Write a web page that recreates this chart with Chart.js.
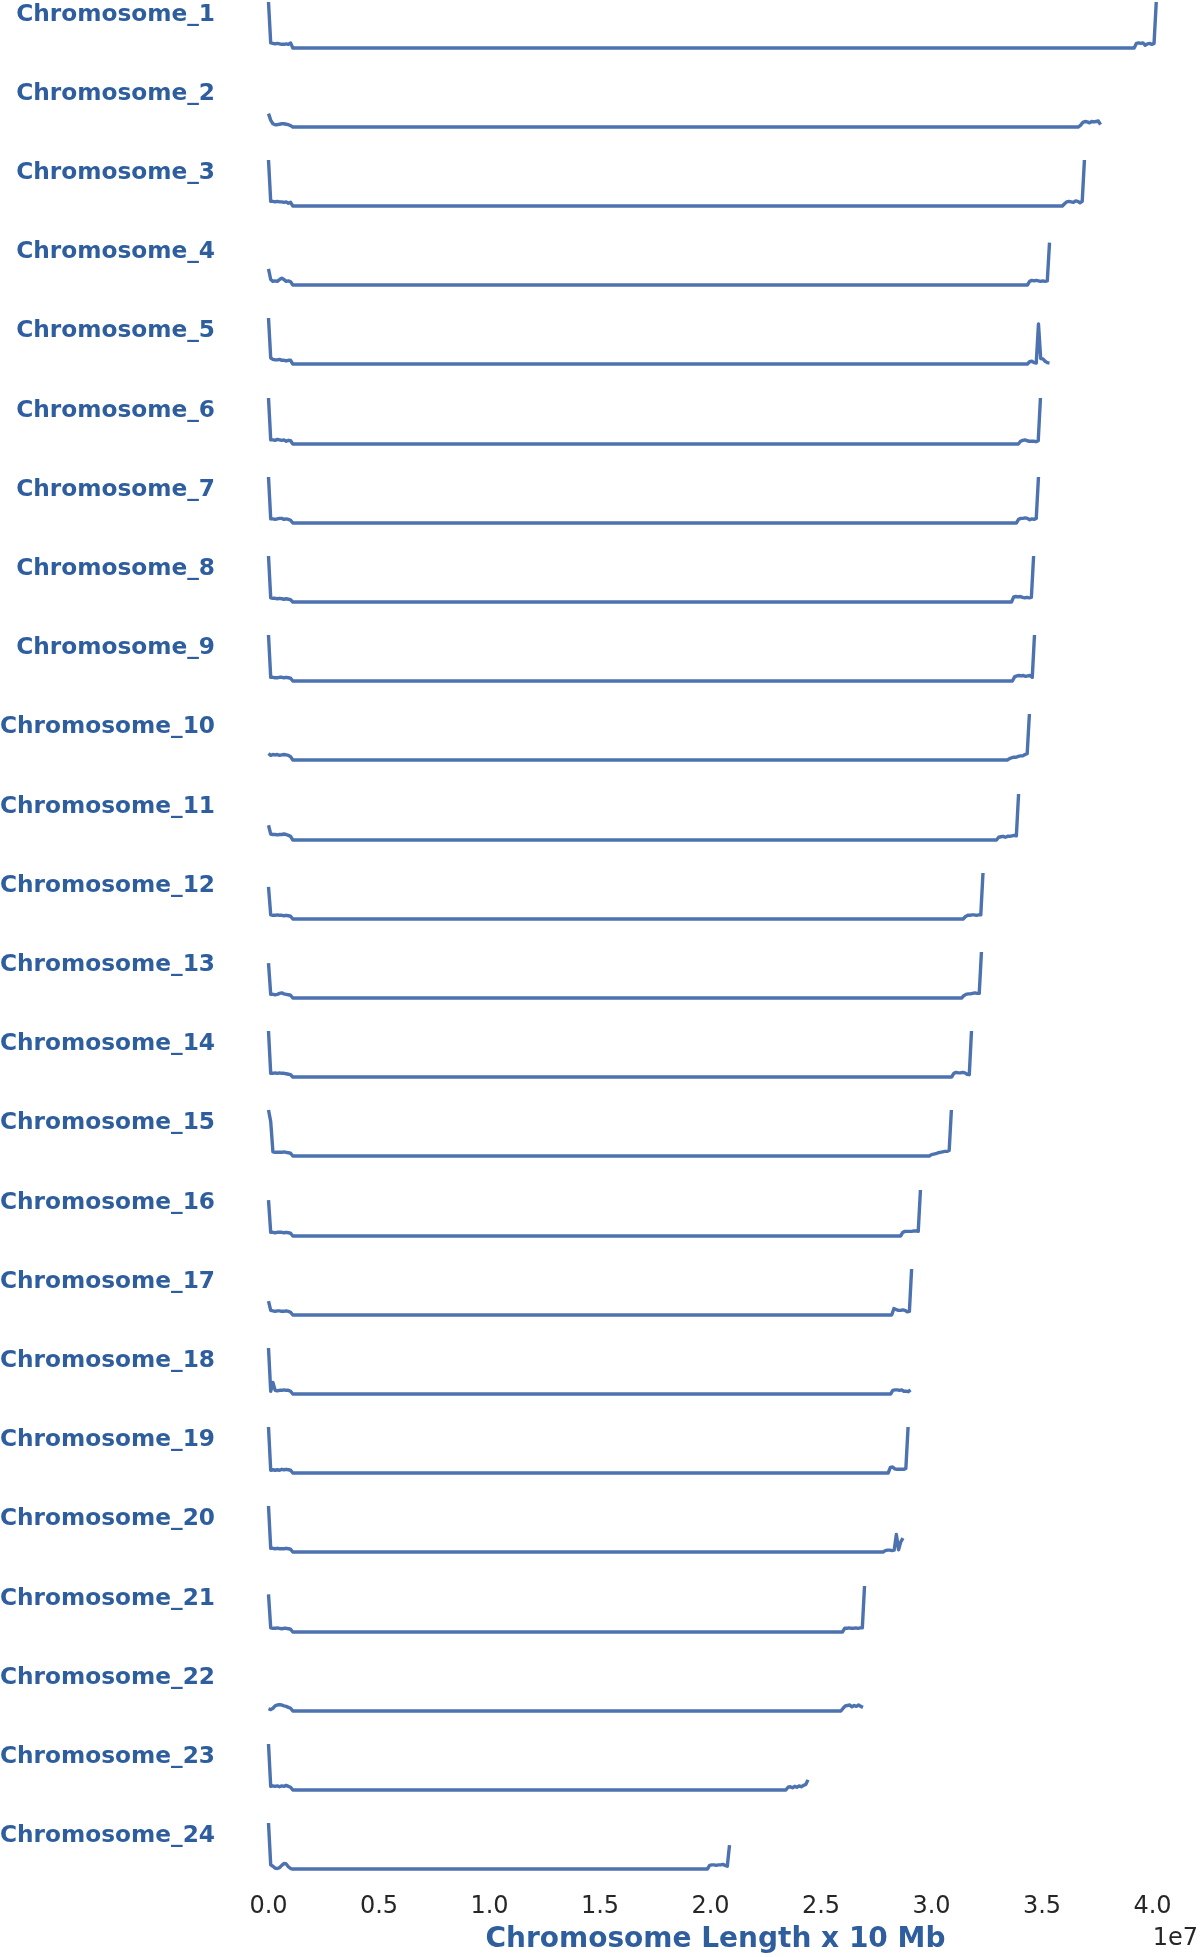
<!DOCTYPE html>
<html>
<head>
<meta charset="utf-8">
<script src="https://cdn.jsdelivr.net/npm/chart.js@4.4.0/dist/chart.umd.min.js"></script>
<style>
html,body{margin:0;padding:0;background:#ffffff;}
#wrap{position:relative;width:1200px;height:1957px;overflow:hidden;background:#ffffff;}
canvas{position:absolute;left:0;}
.lbl{position:absolute;right:985px;height:40px;display:flex;align-items:center;justify-content:flex-end;
  font-family:"DejaVu Sans";font-weight:bold;font-size:23.25px;color:#2e5e9e;white-space:nowrap;}
.offset{position:absolute;right:2px;height:40px;display:flex;align-items:center;
  font-family:"DejaVu Sans";font-size:24px;color:#262626;}
</style>
</head>
<body>
<div id="wrap"></div>
<script>
// ---------------- data ----------------
const chromosomes = [
  'Chromosome_1','Chromosome_2','Chromosome_3','Chromosome_4','Chromosome_5','Chromosome_6',
  'Chromosome_7','Chromosome_8','Chromosome_9','Chromosome_10','Chromosome_11','Chromosome_12',
  'Chromosome_13','Chromosome_14','Chromosome_15','Chromosome_16','Chromosome_17','Chromosome_18',
  'Chromosome_19','Chromosome_20','Chromosome_21','Chromosome_22','Chromosome_23','Chromosome_24'
];
// chromosome lengths (bp)
const lengthsBp = [
  40170000, 37650000, 36920000, 35340000, 35340000, 34930000,
  34840000, 34620000, 34660000, 34430000, 33940000, 32330000,
  32260000, 31810000, 30900000, 29500000, 29100000, 29050000,
  28940000, 28710000, 26970000, 26900000, 24410000, 20860000
];
// window size between consecutive profile values (bp)
const windowBp = 100000;
// profile values of the first windows (from position 0)
const startProfiles = [
  [100,11,10,9,10,9,8,8,9,8,11,0],
  [29,15,7,5,5,6,7,7,6,5,3,0],
  [100,10,10,9,10,9,9,8,9,6,8,0],
  [35,12,8,9,8,12,15,12,8,9,7,0],
  [100,13,10,9,9,10,8,8,7,8,8,0],
  [100,9,9,8,10,9,8,9,6,8,7,0],
  [100,9,9,8,9,10,10,8,9,8,6,0],
  [100,9,8,8,7,8,7,6,7,6,5,0],
  [100,8,8,7,7,8,8,7,8,7,6,0],
  [14,10,12,11,12,10,11,12,11,10,7,0],
  [32,13,12,12,11,12,12,13,12,10,8,0],
  [70,9,8,8,9,8,8,7,8,7,6,0],
  [76,8,8,7,8,10,11,9,8,7,6,0],
  [100,8,8,9,8,9,8,8,7,6,5,0],
  [100,75,9,8,8,8,8,9,8,7,6,0],
  [78,8,8,7,8,8,8,7,8,7,6,0],
  [30,10,9,8,9,9,8,8,9,8,6,0],
  [100,6,25,8,7,8,8,9,8,8,6,0],
  [100,6,7,6,7,6,8,7,8,7,6,0],
  [100,8,8,7,8,7,7,7,8,7,6,0],
  [82,9,8,8,9,8,7,8,8,7,6,0],
  [5,3,6,11,13,14,13,11,10,8,6,0],
  [100,8,9,8,9,7,9,8,10,8,6,0],
  [100,9,6,2,1,3,8,12,11,5,1,0]
];
// profile values of the last windows (ending at chromosome end)
const endProfiles = [
  [0,10,11,10,11,6,9,10,8,10,100],
  [0,4,10,12,11,9,12,11,12,13,5],
  [0,5,9,10,9,8,11,10,7,10,100],
  [0,8,10,9,10,9,8,9,8,9,92],
  [0,5,6,3,2,87,12,11,6,3,2],
  [0,6,8,9,7,6,6,6,5,7,100],
  [0,8,10,10,11,10,7,9,8,10,100],
  [0,11,12,11,12,10,9,10,9,10,100],
  [0,9,11,12,11,12,10,11,12,8,100],
  [0,3,5,6,6,8,9,9,12,14,100],
  [0,6,7,8,6,8,8,9,10,9,100],
  [0,0,5,8,8,9,9,8,9,9,100],
  [0,0,5,8,9,9,10,11,10,10,100],
  [0,0,8,10,9,9,10,9,6,5,100],
  [0,3,4,5,7,8,9,10,10,12,100],
  [0,0,8,10,10,10,10,11,11,10,100],
  [0,0,14,12,10,10,11,10,7,8,100],
  [0,0,8,9,9,8,9,6,6,5,9],
  [0,0,12,13,9,8,8,8,8,10,100],
  [0,0,3,4,4,3,4,38,5,22,30],
  [0,8,8,9,8,8,9,8,9,9,100],
  [0,6,11,12,13,9,12,10,13,10,8],
  [0,6,7,5,8,6,9,7,10,12,22],
  [0,8,9,9,8,9,9,10,8,6,52]
];
const xTickValues = [0, 5000000, 10000000, 15000000, 20000000, 25000000, 30000000, 35000000, 40000000];
const xAxisTitle = 'Chromosome Length x 10 Mb';
const xOffsetLabel = '1e7';

// ---------------- layout ----------------
const W = 1200;
const PX_PER_UNIT_X = 221 / 1e7;          // pixels per bp
const X_ZERO = 268.5;
const X_MIN = -2000000, X_MAX = 42000000;
const X_LEFT = X_ZERO + X_MIN * PX_PER_UNIT_X;
const X_RIGHT = X_ZERO + X_MAX * PX_PER_UNIT_X;
// axis chart uses the same pixel mapping but a slightly shifted range so the title centres like the original
const AX_MIN = -1900000, AX_MAX = 42350000, AX_W = 1215;
const AX_LEFT = X_ZERO + AX_MIN * PX_PER_UNIT_X;
const AX_RIGHT = X_ZERO + AX_MAX * PX_PER_UNIT_X;
const ROW0_BASE = 47.5, ROW_STEP = 79.2;
const ROW_H = 80, BASE_IN_ROW = 60, PX_PER_100 = 46;
const Y_MAX = BASE_IN_ROW / (PX_PER_100 / 100);
const Y_MIN = -(ROW_H - BASE_IN_ROW) / (PX_PER_100 / 100);
const LINE_COLOR = '#4c72b0';

const wrap = document.getElementById('wrap');

function buildSeries(i) {
  const L = lengthsBp[i];
  const s = startProfiles[i].map((y, k) => ({x: k * windowBp, y}));
  const n = endProfiles[i].length;
  const e = endProfiles[i].map((y, k) => ({x: L - (n - 1 - k) * windowBp, y}));
  return s.concat(e);
}

function addCanvas(top, height, width) {
  const c = document.createElement('canvas');
  c.width = width; c.height = height;
  c.style.top = top + 'px';
  c.style.width = width + 'px';
  c.style.height = height + 'px';
  wrap.appendChild(c);
  return c;
}

chromosomes.forEach((name, i) => {
  const base = ROW0_BASE + i * ROW_STEP;
  const c = addCanvas(base - BASE_IN_ROW, ROW_H, W);
  new Chart(c, {
    type: 'line',
    data: {datasets: [{
      label: name,
      data: buildSeries(i),
      borderColor: LINE_COLOR,
      borderWidth: 3.4,
      pointRadius: 0,
      tension: 0,
      fill: false,
      borderJoinStyle: 'round',
      borderCapStyle: 'butt'
    }]},
    options: {
      responsive: false, animation: false, events: [],
      layout: {padding: {left: X_LEFT, right: W - X_RIGHT, top: 0, bottom: 0}},
      plugins: {legend: {display: false}, tooltip: {enabled: false}, title: {display: false}},
      scales: {
        x: {type: 'linear', min: X_MIN, max: X_MAX, display: false},
        y: {type: 'linear', min: Y_MIN, max: Y_MAX, display: false}
      }
    }
  });
  const lbl = document.createElement('div');
  lbl.className = 'lbl';
  lbl.textContent = name;
  lbl.style.top = (base - 35.5 - 20) + 'px';
  wrap.appendChild(lbl);
});

// x axis (ticks + title)
const AXIS_H = 150;
const axisCanvas = addCanvas(1957 - AXIS_H, AXIS_H, AX_W);
new Chart(axisCanvas, {
  type: 'line',
  data: {datasets: []},
  options: {
    responsive: false, animation: false, events: [],
    layout: {padding: {left: AX_LEFT, right: AX_W - AX_RIGHT, top: 0, bottom: 0}},
    plugins: {legend: {display: false}, tooltip: {enabled: false}},
    scales: {
      x: {
        type: 'linear', position: 'bottom', min: AX_MIN, max: AX_MAX,
        afterBuildTicks: s => { s.ticks = xTickValues.map(v => ({value: v})); },
        grid: {display: false, drawTicks: false, tickLength: 0},
        border: {display: false},
        ticks: {
          padding: 0, autoSkip: false, maxRotation: 0,
          font: {family: 'DejaVu Sans', size: 24},
          color: '#262626',
          callback: v => (v / 1e7).toFixed(1)
        },
        title: {
          display: true, text: xAxisTitle, color: '#2e5e9e',
          font: {family: 'DejaVu Sans', size: 28, weight: 'bold'},
          padding: {top: 1.8, bottom: 0.5}
        }
      },
      y: {display: false, min: 0, max: 1}
    }
  }
});

const off = document.createElement('div');
off.className = 'offset';
off.textContent = xOffsetLabel;
off.style.top = (1937 - 20) + 'px';
wrap.appendChild(off);
</script>
</body>
</html>
